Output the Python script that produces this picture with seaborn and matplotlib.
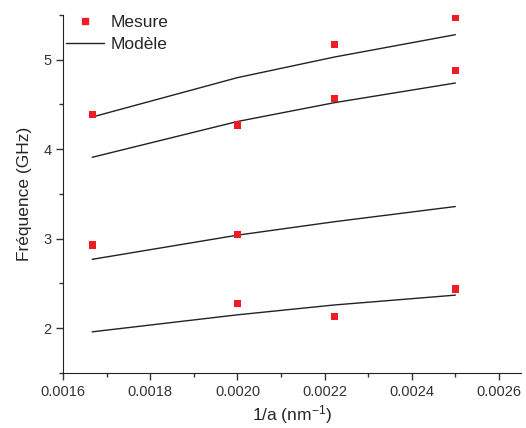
import numpy as np
import pandas as pd
import seaborn as sns
import matplotlib.pyplot as plt
from matplotlib.ticker import MultipleLocator

# inverse de la periode (nm^-1)
inv_a = [1/600, 1/500, 1/450, 1/400]

# mesures (GHz), une liste par branche
mes_b1 = [4.39, None, 5.17, 5.47]
mes_b2 = [None, 4.27, 4.57, 4.88]
mes_b3 = [2.93, 3.05, None, None]
mes_b4 = [None, 2.28, 2.13, 2.44]

# modele (GHz)
mod_b1 = [4.36, 4.80, 5.03, 5.28]
mod_b2 = [3.91, 4.31, 4.52, 4.74]
mod_b3 = [2.77, 3.04, 3.19, 3.36]
mod_b4 = [1.96, 2.15, 2.26, 2.37]

rows = []
for b, vals in enumerate([mes_b1, mes_b2, mes_b3, mes_b4]):
    for x, v in zip(inv_a, vals):
        if v is not None:
            rows.append({'x': x, 'f': v, 'branche': b})
mesure = pd.DataFrame(rows)

rows = []
for b, vals in enumerate([mod_b1, mod_b2, mod_b3, mod_b4]):
    for x, v in zip(inv_a, vals):
        rows.append({'x': x, 'f': v, 'branche': b})
modele = pd.DataFrame(rows)

sns.set_style('ticks')
plt.rcParams['font.family'] = ['Liberation Sans', 'DejaVu Sans']
plt.rcParams['mathtext.fontset'] = 'custom'
plt.rcParams['mathtext.rm'] = 'Liberation Sans'
plt.rcParams['mathtext.default'] = 'regular'

fig = plt.figure(figsize=(5.26, 4.28), dpi=100)
ax = fig.add_axes([0.12, 0.1285, 0.87, 0.8365])

sns.lineplot(data=modele, x='x', y='f', units='branche', estimator=None,
             color='#222222', lw=1.0, ax=ax, legend=False)
sns.scatterplot(data=mesure, x='x', y='f', marker='s', color='#ee1c24',
                s=28, edgecolor='none', ax=ax, zorder=3, legend=False)

ax.set_xlim(0.0016, 0.00265)
ax.set_ylim(1.5, 5.5)
ax.xaxis.set_major_locator(MultipleLocator(0.0002))
ax.xaxis.set_minor_locator(MultipleLocator(0.0001))
ax.yaxis.set_major_locator(MultipleLocator(1))
ax.yaxis.set_minor_locator(MultipleLocator(0.5))
ax.xaxis.set_major_formatter(plt.FuncFormatter(lambda v, p: f'{v:.4f}'))
ax.tick_params(which='major', length=5, width=1, labelsize=10.5, colors='#333333')
ax.tick_params(which='minor', length=3, width=1, colors='#333333')
for s in ['top', 'right']:
    ax.spines[s].set_visible(False)
for s in ['left', 'bottom']:
    ax.spines[s].set_color('#222222')

ax.set_xlabel('1/a (nm$^{-1}$)', fontsize=12.5, labelpad=3)
ax.set_ylabel('Fréquence (GHz)', fontsize=12.5, labelpad=8)

h1 = plt.Line2D([], [], marker='s', ls='none', color='#ee1c24', markersize=5)
h2 = plt.Line2D([], [], color='#222222', lw=1.0)
ax.legend([h1, h2], ['Mesure', 'Modèle'], loc='upper left', frameon=False,
          fontsize=12.5, bbox_to_anchor=(-0.028, 1.045), handlelength=2.2,
          handletextpad=0.4, labelspacing=0.4)

fig.savefig('out.png', dpi=100)
